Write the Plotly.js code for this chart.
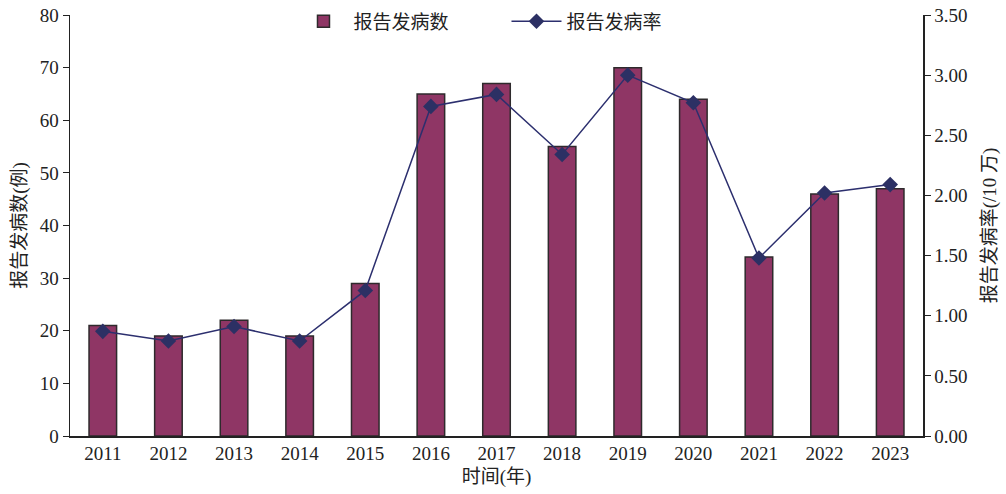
<!DOCTYPE html>
<html>
<head>
<meta charset="utf-8">
<script src="https://cdn.plot.ly/plotly-3.0.1.min.js"></script>
<style>html,body{margin:0;padding:0;background:#fff;}#chart{width:1006px;height:494px;}</style>
</head>
<body>
<div id="chart"></div>
<script>
const years = ['2011','2012','2013','2014','2015','2016','2017','2018','2019','2020','2021','2022','2023'];
const reportedCases = [21, 19, 22, 19, 29, 65, 67, 55, 70, 64, 34, 46, 47];
const incidenceRate = [0.87, 0.79, 0.91, 0.79, 1.21, 2.74, 2.84, 2.34, 3.00, 2.77, 1.48, 2.02, 2.09];
const barName = '报告发病数';
const lineName = '报告发病率';
const xTitle = '时间(年)';
const yLeftTitle = '报告发病数(例)';
const yRightTitle = '报告发病率(/10 万)';

const FONT = '"Liberation Serif", "Times New Roman", "Noto Sans CJK SC", serif';

const traces = [
  {
    type: 'bar', x: years, y: reportedCases, name: barName,
    marker: {color: '#8f3665', line: {color: '#2e2a2c', width: 1.5}},
    width: 0.42, yaxis: 'y'
  },
  {
    type: 'scatter', mode: 'lines+markers', x: years, y: incidenceRate, name: lineName,
    line: {color: '#2c2f6e', width: 1.5},
    marker: {symbol: 'diamond', size: 12, color: '#2c3064'},
    yaxis: 'y2'
  }
];

const layout = {
  width: 1006, height: 494,
  margin: {l: 70, r: 83, t: 15, b: 58, autoexpand: false},
  paper_bgcolor: '#fff', plot_bgcolor: '#fff',
  font: {family: FONT, size: 18, color: '#222'},
  showlegend: true,
  legend: {orientation: 'h', x: 0.262, y: 1.03, xanchor: 'left', yanchor: 'top',
           font: {family: FONT, size: 19, color: '#222'}, itemwidth: 50, entrywidth: 148, entrywidthmode: 'pixels',
           bgcolor: 'rgba(0,0,0,0)', tracegroupgap: 0},
  xaxis: {
    type: 'category', range: [-0.5, 12.5], autorange: false,
    showline: true, linecolor: '#222', linewidth: 1.5,
    ticks: '', showgrid: false, zeroline: false,
    tickfont: {family: FONT, size: 19, color: '#222'},
    title: {text: xTitle, font: {family: FONT, size: 19, color: '#222'}, standoff: 6}
  },
  yaxis: {
    range: [0, 80], dtick: 10, showline: true, linecolor: '#222', linewidth: 1.5,
    ticks: 'outside', ticklen: 6, tickcolor: '#222', showgrid: false, zeroline: false,
    tickfont: {family: FONT, size: 19, color: '#222'},
    title: {text: yLeftTitle, font: {family: FONT, size: 19, color: '#222'}, standoff: 8}
  },
  yaxis2: {
    range: [0, 3.5], dtick: 0.5, tickformat: '.2f', overlaying: 'y', side: 'right',
    showline: true, linecolor: '#222', linewidth: 1.5,
    ticks: 'outside', ticklen: 6, tickcolor: '#222', showgrid: false, zeroline: false,
    tickfont: {family: FONT, size: 19, color: '#222'},
    title: {text: yRightTitle, font: {family: FONT, size: 19, color: '#222'}, standoff: 16}
  }
};

Plotly.newPlot('chart', traces, layout, {displayModeBar: false, staticPlot: true});
</script>
</body>
</html>
